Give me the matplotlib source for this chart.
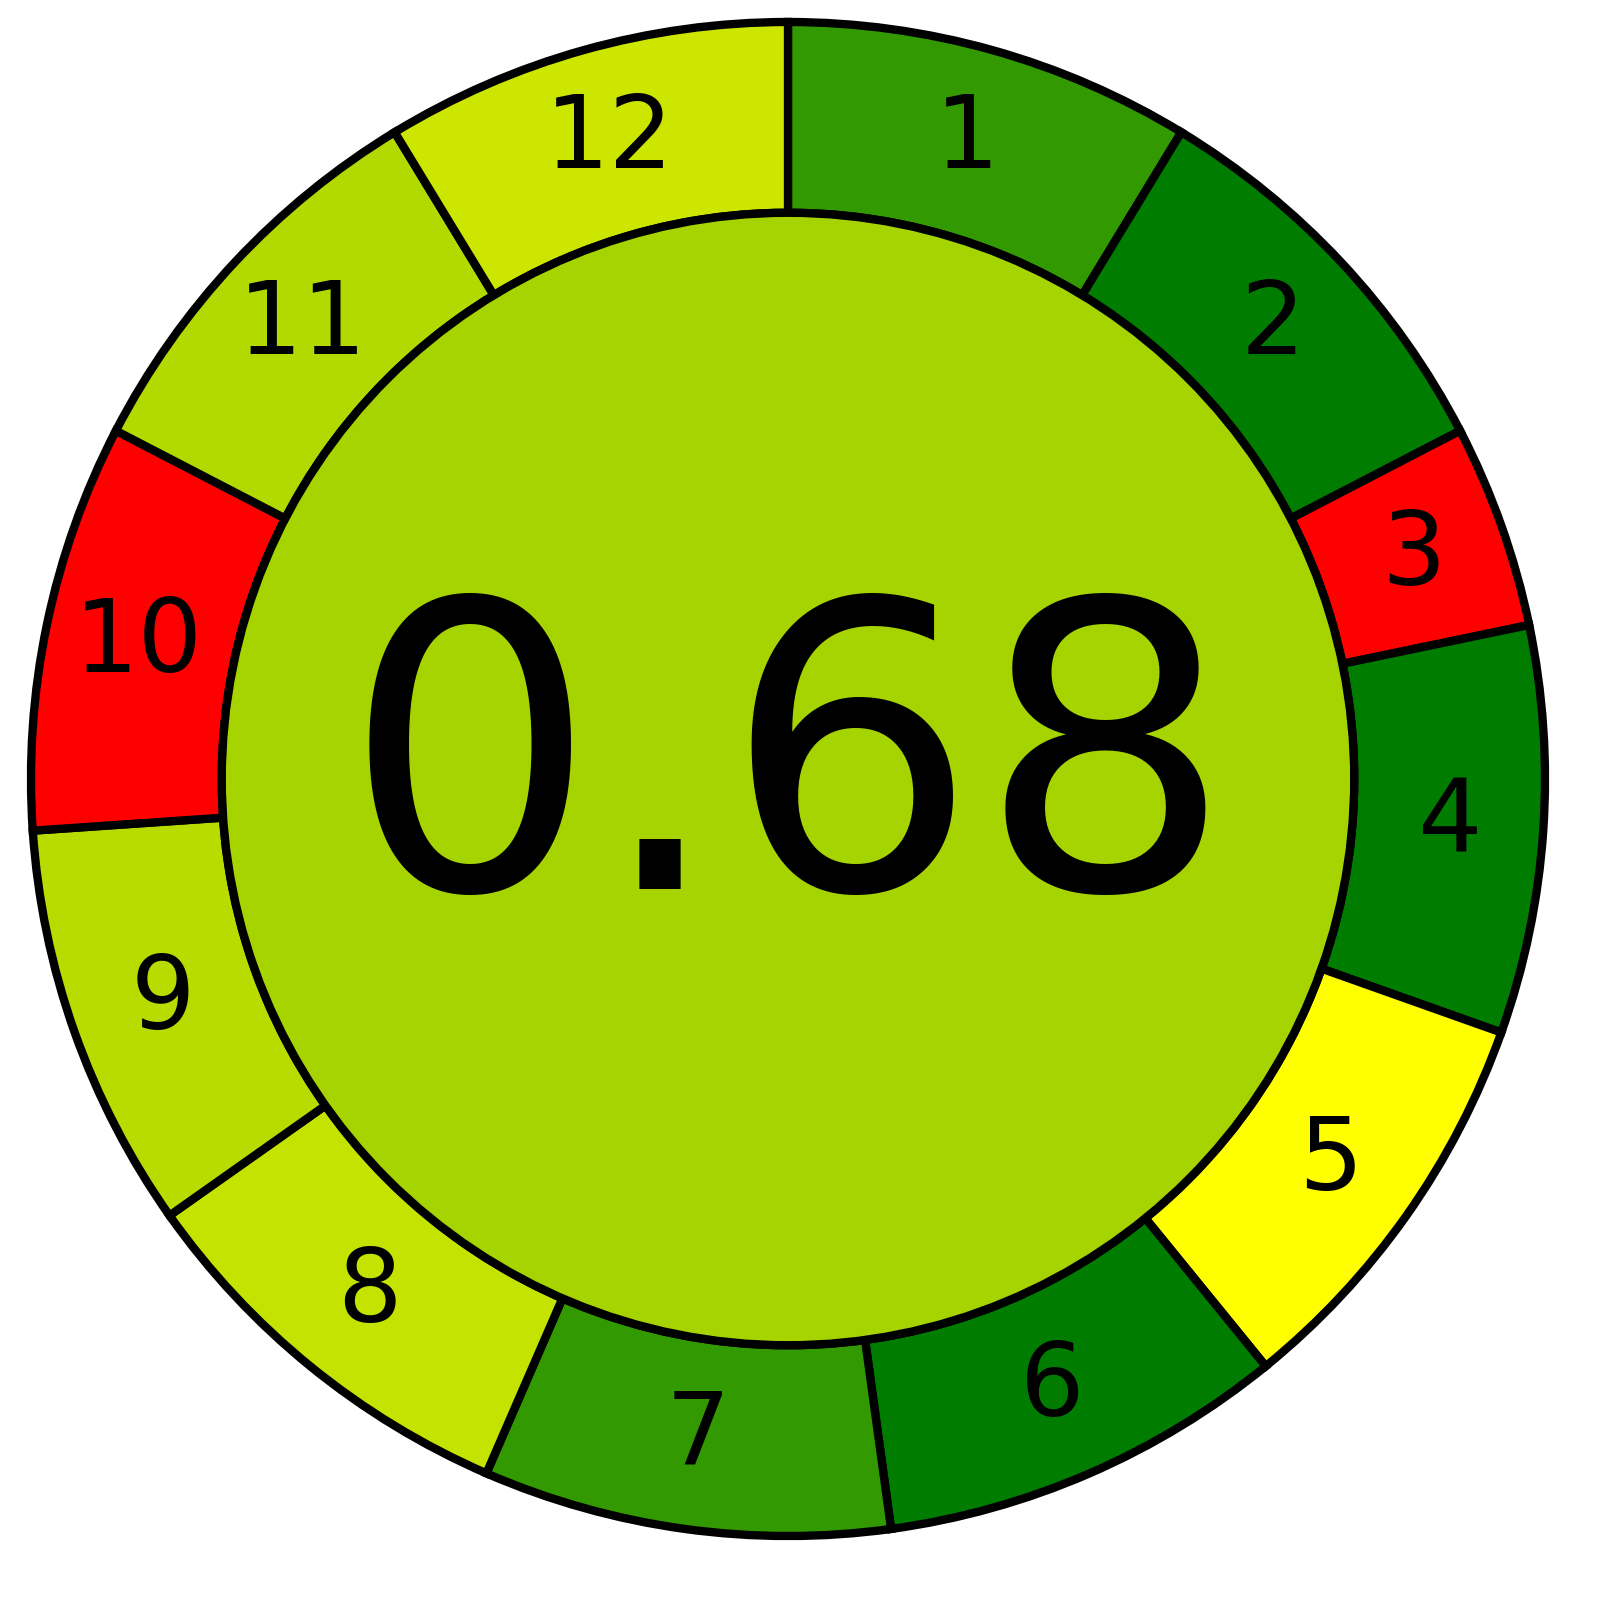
import numpy as np
import matplotlib
matplotlib.use("Agg")
from matplotlib import pyplot as plt
from matplotlib.patches import Circle

# segment labels, weights (3 has half weight) and colours
labels = ["1", "2", "3", "4", "5", "6", "7", "8", "9", "10", "11", "12"]
weights = [2, 2, 1, 2, 2, 2, 2, 2, 2, 2, 2, 2]
colors = ["#339900", "#007d00", "#ff0000", "#007d00", "#ffff00", "#007d00",
          "#339900", "#c4e300", "#b8dc00", "#ff0000", "#b2da00", "#cce600"]
score = 0.68
score_color = "#a6d400"

W, H, dpi = 1600, 1597, 100
fig = plt.figure(figsize=(W / dpi, H / dpi), dpi=dpi)
ax = fig.add_axes([0, 0, 1, 1])

# pixel geometry of the ring in the reference
cx, cy, R = 788, 779, 757
r_in = 0.748
lw = 6

wedges, _ = ax.pie(weights, colors=colors, startangle=90, counterclock=False,
                   radius=1.0, center=(0, 0), frame=True,
                   wedgeprops=dict(width=1 - r_in, edgecolor='black', linewidth=lw))
ax.set_xlim(-cx / R, (W - cx) / R)
ax.set_ylim(-(H - cy) / R, cy / R)
ax.set_aspect('equal')
ax.axis('off')

ax.add_patch(Circle((0, 0), r_in, facecolor=score_color, edgecolor='black',
                    linewidth=lw, zorder=5))

# numbers in the ring
r_lab = 0.877
for w, lab in zip(wedges, labels):
    mid = np.deg2rad((w.theta1 + w.theta2) / 2)
    ax.text(r_lab * np.cos(mid), r_lab * np.sin(mid), lab, fontsize=73,
            ha='center', va='center', zorder=6)

ax.text(0, 0, f"{score:.2f}", fontsize=288, ha='center', va='center', zorder=6)

fig.savefig("out.png", dpi=dpi)
